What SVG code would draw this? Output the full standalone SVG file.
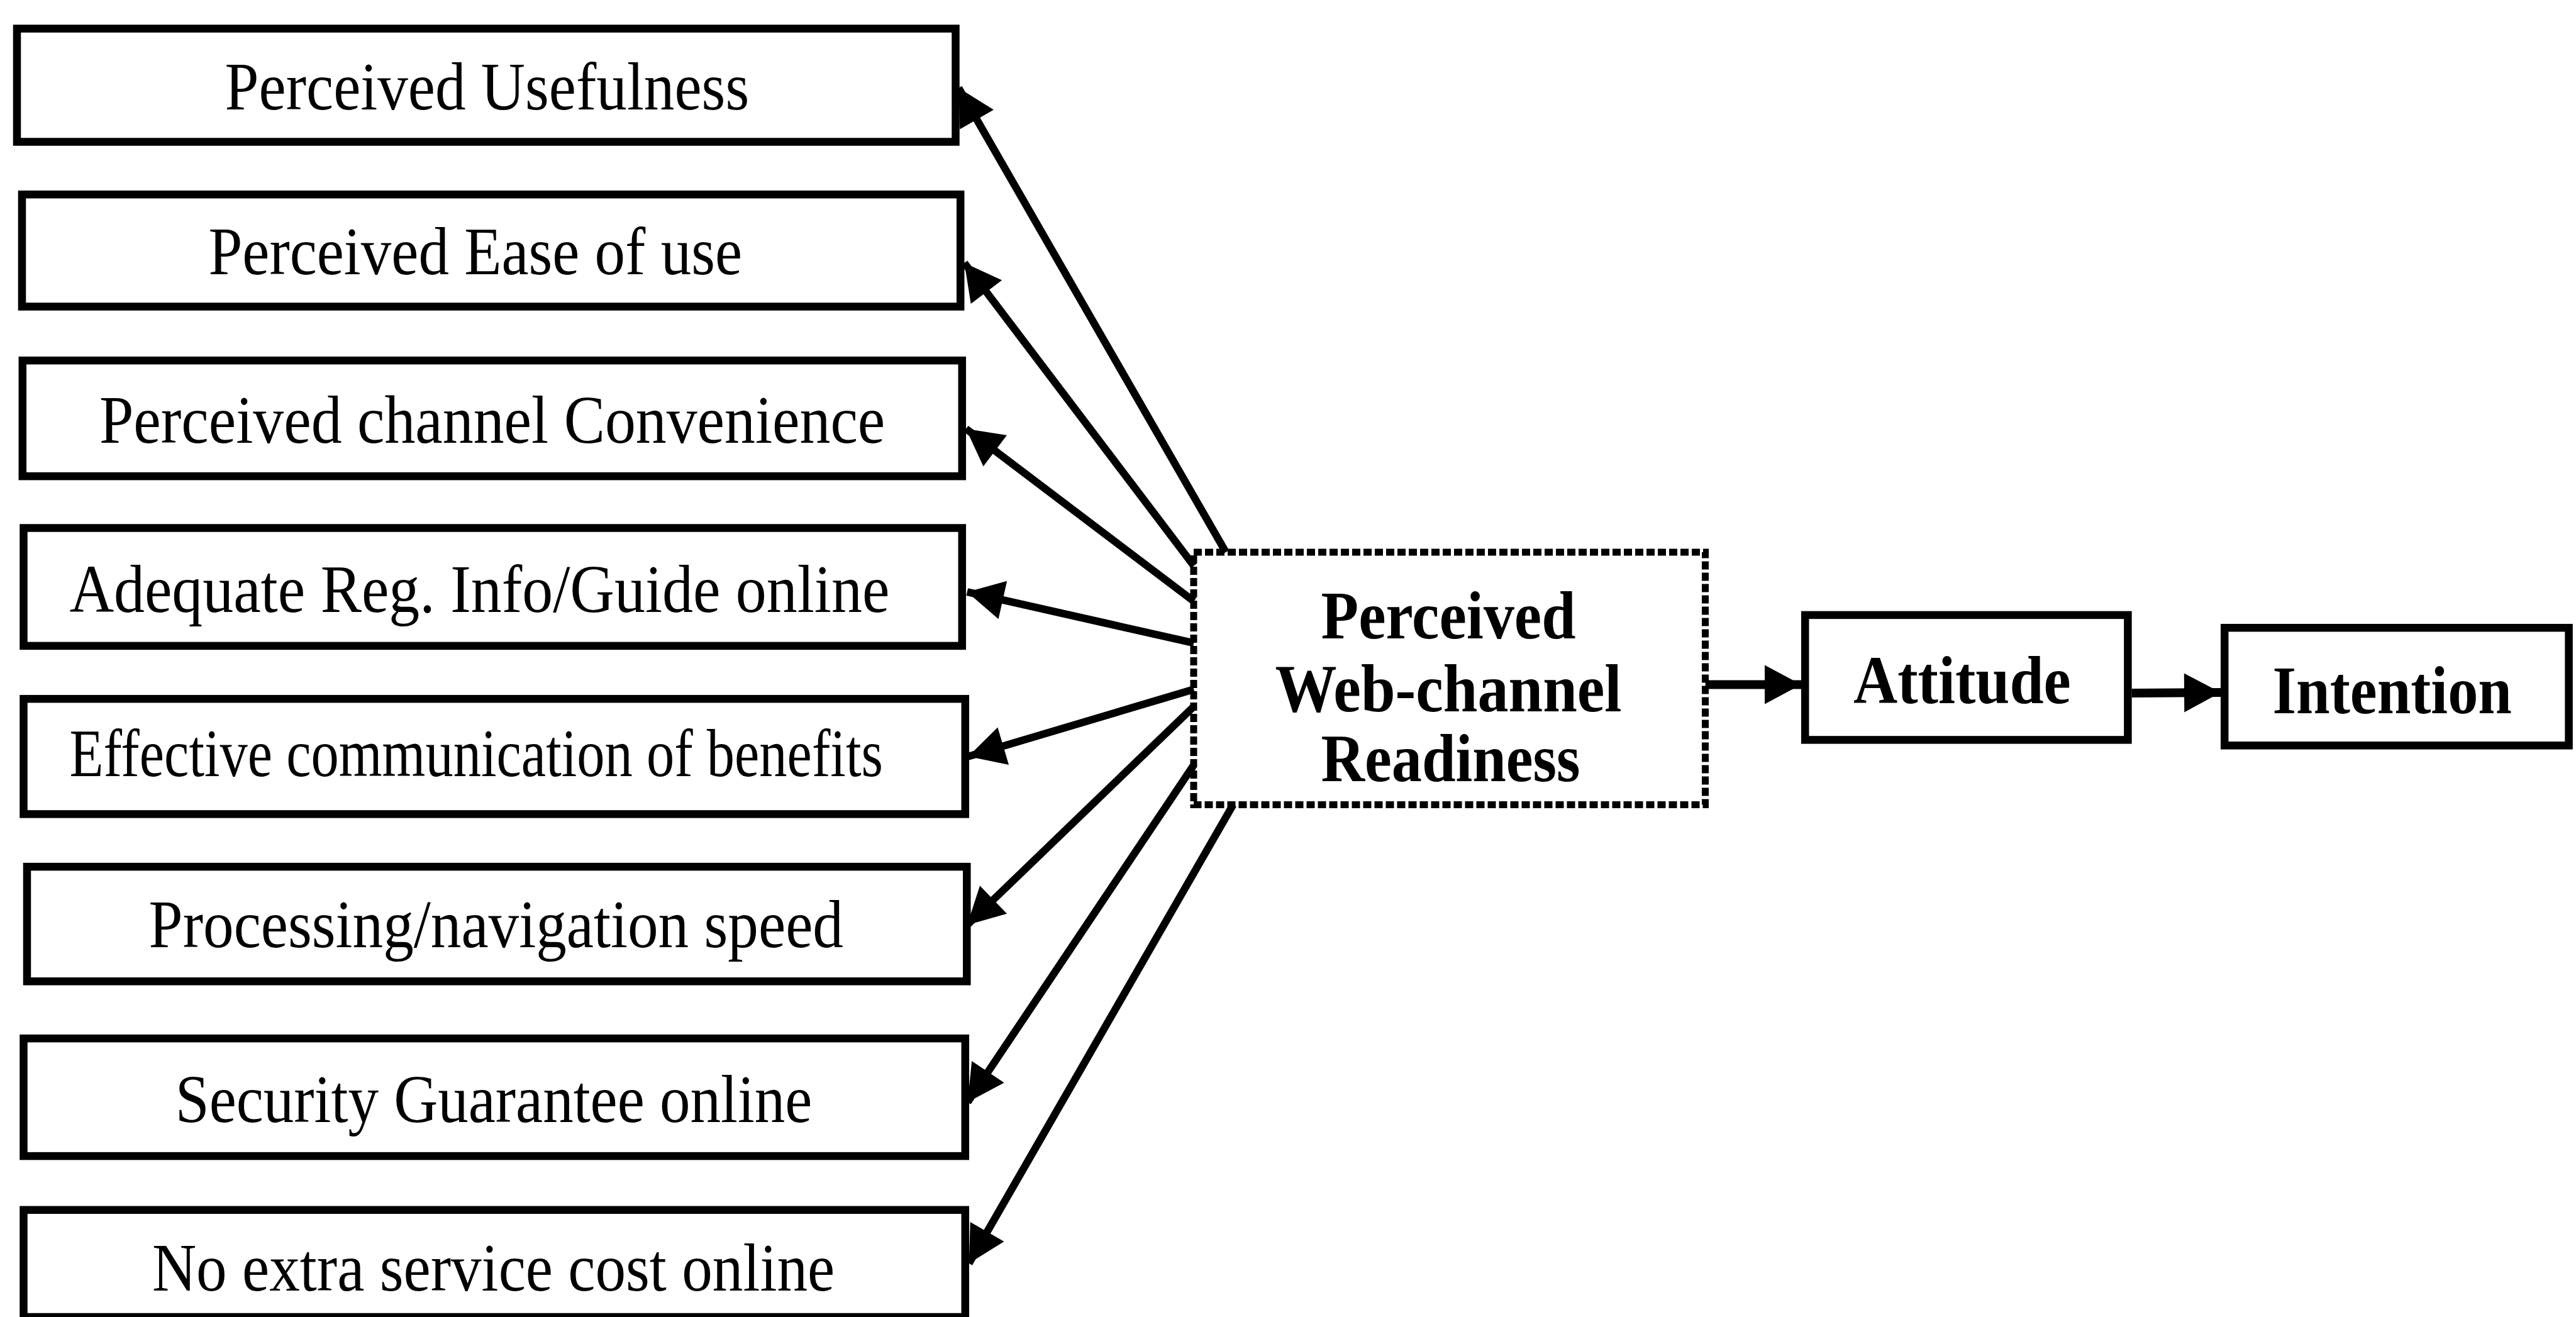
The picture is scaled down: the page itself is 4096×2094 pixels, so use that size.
<svg xmlns="http://www.w3.org/2000/svg" width="4096" height="2094" viewBox="0 0 4096 2094">
  <style>
    .box { fill: #ffffff; stroke: #000000; stroke-width: 12.5; }
    .hub { fill: #ffffff; stroke: #000000; stroke-width: 11; stroke-dasharray: 13 5; }
    .lbl { font-family: "Liberation Serif", "Times New Roman", serif; font-size: 108px; fill: #000000; }
    .bold { font-family: "Liberation Serif", "Times New Roman", serif; font-size: 108px; font-weight: bold; fill: #000000; }
    .link { stroke: #000000; stroke-width: 12; fill: none; marker-end: url(#head); }
    .flow { stroke: #000000; stroke-width: 14; fill: none; marker-end: url(#head); }
  </style>
  <defs>
    <marker id="head" markerUnits="userSpaceOnUse" markerWidth="62" markerHeight="68" refX="58" refY="34" orient="auto" overflow="visible">
      <path d="M0,3 L58,34 L0,65 Z" fill="#000000"/>
    </marker>
  </defs>

  <rect width="4096" height="2094" fill="#ffffff"/>

  <!-- Factor boxes -->
  <g id="perceived-usefulness">
    <rect class="box" x="27" y="45.5" width="1492.5" height="180"/>
    <text class="lbl" x="357.5" y="173.5" textLength="833.7" lengthAdjust="spacingAndGlyphs">Perceived Usefulness</text>
  </g>
  <g id="perceived-ease-of-use">
    <rect class="box" x="35" y="309.2" width="1492.2" height="178.3"/>
    <text class="lbl" x="331.4" y="435.7" textLength="848.6" lengthAdjust="spacingAndGlyphs">Perceived Ease of use</text>
  </g>
  <g id="perceived-channel-convenience">
    <rect class="box" x="35.8" y="573.2" width="1494" height="184"/>
    <text class="lbl" x="157.9" y="704.2" textLength="1249.4" lengthAdjust="spacingAndGlyphs">Perceived channel Convenience</text>
  </g>
  <g id="adequate-reg-info">
    <rect class="box" x="37.5" y="839.5" width="1492.3" height="187.4"/>
    <text class="lbl" x="110.4" y="973" textLength="1304" lengthAdjust="spacingAndGlyphs">Adequate Reg. Info/Guide online</text>
  </g>
  <g id="effective-communication">
    <rect class="box" x="37.5" y="1111.2" width="1497.3" height="183.2"/>
    <text class="lbl" x="110.4" y="1233.7" font-size="100" textLength="1293.6" lengthAdjust="spacingAndGlyphs">Effective communication of benefits</text>
  </g>
  <g id="processing-speed">
    <rect class="box" x="43" y="1378.1" width="1494.3" height="182.2"/>
    <text class="lbl" x="236.6" y="1506.1" textLength="1104.3" lengthAdjust="spacingAndGlyphs">Processing/navigation speed</text>
  </g>
  <g id="security-guarantee">
    <rect class="box" x="37.5" y="1651.1" width="1497.3" height="187"/>
    <text class="lbl" x="278.7" y="1784" textLength="1012.7" lengthAdjust="spacingAndGlyphs">Security Guarantee online</text>
  </g>
  <g id="no-extra-cost">
    <rect class="box" x="37.5" y="1923.8" width="1497.3" height="170.2"/>
    <text class="lbl" x="241.9" y="2051.9" textLength="1085.3" lengthAdjust="spacingAndGlyphs">No extra service cost online</text>
  </g>

  <!-- Central construct -->
  <g id="web-channel-readiness">
    <rect class="hub" x="1898" y="878" width="813.5" height="401.5"/>
    <text class="bold" x="2100.5" y="1015" textLength="405" lengthAdjust="spacingAndGlyphs">Perceived</text>
    <text class="bold" x="2027.6" y="1131.4" textLength="551" lengthAdjust="spacingAndGlyphs">Web-channel</text>
    <text class="bold" x="2100.5" y="1242.4" textLength="412" lengthAdjust="spacingAndGlyphs">Readiness</text>
  </g>

  <g id="attitude">
    <rect class="box" x="2870.2" y="977.9" width="513.2" height="198.5"/>
    <text class="bold" x="2947" y="1117.8" textLength="345.6" lengthAdjust="spacingAndGlyphs">Attitude</text>
  </g>

  <g id="intention">
    <rect class="box" x="3537.2" y="998.2" width="547.4" height="187.1"/>
    <text class="bold" x="3613.6" y="1133.7" textLength="380.4" lengthAdjust="spacingAndGlyphs">Intention</text>
  </g>

  <!-- Connectors -->
  <g id="connectors">
    <line class="link" x1="1949.2" y1="878" x2="1524.2" y2="139.8"/>
    <line class="link" x1="1898.3" y1="899.6" x2="1533.4" y2="418"/>
    <line class="link" x1="1898.3" y1="956" x2="1536" y2="681.8"/>
    <line class="link" x1="1898.3" y1="1022.4" x2="1537.8" y2="941.2"/>
    <line class="link" x1="1898.3" y1="1096.1" x2="1539.6" y2="1202.7"/>
    <line class="link" x1="1898.3" y1="1123.2" x2="1537.8" y2="1470.7"/>
    <line class="link" x1="1898.3" y1="1216.2" x2="1538.6" y2="1752.5"/>
    <line class="link" x1="1960.7" y1="1279.5" x2="1540.7" y2="2008.8"/>
    <line class="flow" x1="2711.7" y1="1088.5" x2="2864" y2="1088.5"/>
    <line class="flow" x1="3389.6" y1="1102" x2="3531" y2="1101"/>
  </g>
</svg>
